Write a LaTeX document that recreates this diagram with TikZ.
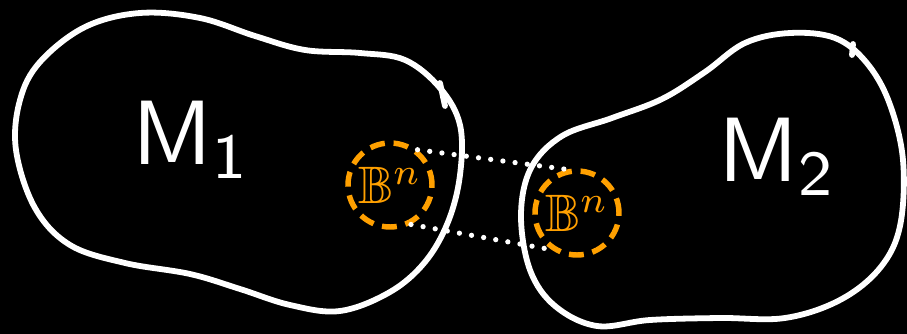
\documentclass[tikz,border=0pt]{standalone}
\usepackage{amssymb}
\usepackage{graphicx}

\definecolor{ballorange}{RGB}{255,160,0}

\tikzset{
    manifold/.style={draw=white, line width=3.3pt, line join=round, line cap=round},
    ball/.style={circle, draw=ballorange, dash pattern=on 8.5pt off 5pt, line width=3.1pt,
        minimum size=1.68cm, inner sep=0pt, text=ballorange},
    glue/.style={draw=white, line width=3pt, line cap=round, dash pattern=on 0pt off 7pt},
    label/.style={text=white}
}

\begin{document}
\begin{tikzpicture}[x=0.02cm, y=-0.02cm]

        % background
        \useasboundingbox (0,0) rectangle (907,334);
        \fill[black] (0,0) rectangle (907,334);

        % first manifold
        \draw[manifold] plot[smooth cycle, tension=0.6] coordinates {
            (40,62) (85,27) (140,13) (200,18) (255,36) (305,50) (360,53) (405,60)
            (440,88) (460,125) (460,175) (448,222) (425,262) (390,292) (340,311)
            (290,305) (240,289) (190,274) (125,263) (70,245) (35,208) (16,150) (20,100)};
        \draw[manifold] (440,83) -- (445,106);

        % second manifold
        \draw[manifold] plot[smooth cycle, tension=0.6] coordinates {
            (521,215) (531,168) (562,136) (612,118) (662,99) (705,72) (745,43)
            (790,33) (835,38) (866,62) (889,102) (903,160) (900,226) (880,268)
            (840,300) (785,318) (720,318) (650,320) (597,326) (555,306) (530,270)};
        \draw[manifold] (853,44) -- (852,55);

        % labels
        \node[label] (m1) at (192,140) {\scalebox{5.2}{$\mathsf{M}_{\mathsf{1}}$}};
        \node[label] (m2) at (778,157) {\scalebox{5.2}{$\mathsf{M}_{\mathsf{2}}$}};

        % balls
        \node[ball] (b1) at (390,185) {\scalebox{3}{$\mathbb{B}^n$}};
        \node[ball] (b2) at (577,213) {\scalebox{3}{$\mathbb{B}^n$}};

        % gluing
        \draw[glue] (b1.52) -- (b2.103);
        \draw[glue] (b1.-62) -- (b2.-125);

    \end{tikzpicture}
\end{document}
